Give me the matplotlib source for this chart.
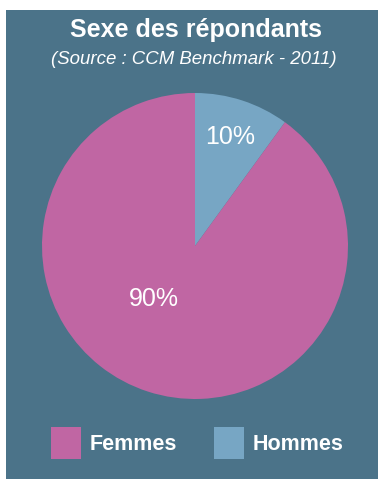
import matplotlib.pyplot as plt
from matplotlib.patches import Patch, Rectangle

# survey data
labels = ["Hommes", "Femmes"]
shares = [10, 90]
colors = ["#77a6c4", "#c066a3"]
legend_order = ["Femmes", "Hommes"]

bg = "#4b7389"
plt.rcParams['font.family'] = ['Liberation Sans', 'DejaVu Sans']

fig = plt.figure(figsize=(3.78, 4.79), dpi=100)
fig.patch.set_facecolor("white")

# dark panel behind everything
panel = Rectangle((6 / 378, 0), 1, 1 - 10 / 479, transform=fig.transFigure,
                  facecolor=bg, edgecolor="none", zorder=-10)
fig.add_artist(panel)

fig.text(0.518, 1 - 30 / 479, "Sexe des répondants", ha="center", va="center",
         color="white", fontsize=18, fontweight="bold")
fig.text(0.513, 1 - 59 / 479, "(Source : CCM Benchmark - 2011)", ha="center", va="center",
         color="white", fontsize=13.4, style="italic")

ax = fig.add_axes([42 / 378, 80 / 479, 306 / 378, 306 / 479])
ax.set_zorder(1)
wedges, texts, autotexts = ax.pie(shares, colors=colors, startangle=90, counterclock=False,
                                  autopct="%d%%", pctdistance=0.75, radius=1,
                                  textprops=dict(color="white", fontsize=18))
# move the large slice's label towards the lower left
autotexts[1].set_position((-0.27, -0.345))
ax.set_xlim(-1, 1)
ax.set_ylim(-1, 1)
ax.set_aspect("equal")
ax.axis("off")

handles = [Patch(facecolor=colors[labels.index(n)], edgecolor="none") for n in legend_order]
leg = fig.legend(handles, legend_order, loc="center", bbox_to_anchor=(0.522, 1 - 443 / 479),
                 ncol=2, frameon=False, fontsize=15.5, handlelength=1.4, handleheight=1.9,
                 handletextpad=0.4, columnspacing=1.7)
leg.set_zorder(2)
for t in leg.get_texts():
    t.set_color("white")
    t.set_fontweight("bold")

fig.savefig("out.png", dpi=100, facecolor=fig.get_facecolor())
